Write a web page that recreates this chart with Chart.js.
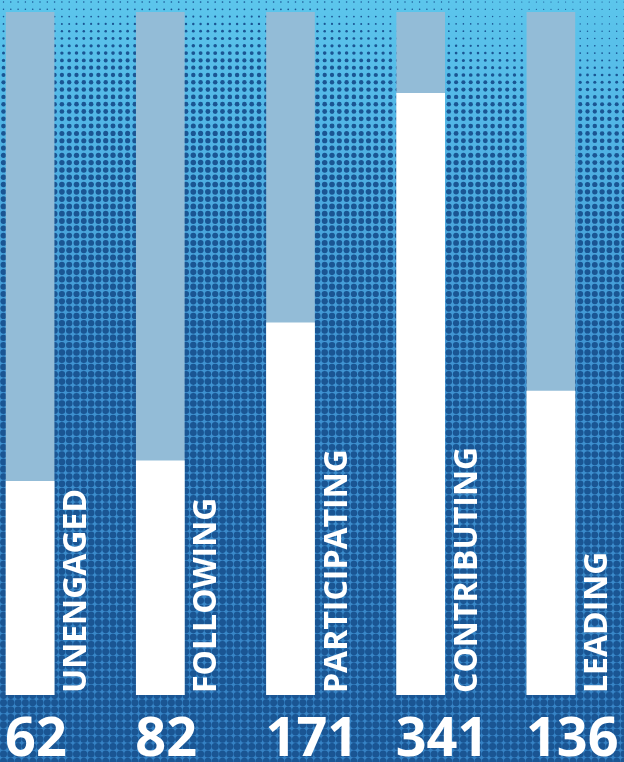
<!DOCTYPE html>
<html>
<head>
<meta charset="utf-8">
<script src="https://cdn.jsdelivr.net/npm/chart.js@4/dist/chart.umd.min.js"></script>
<style>
  html, body { margin: 0; padding: 0; overflow: hidden; background: #1d5d99; }
  #wrap { position: absolute; left: -35px; top: 0; width: 700px; height: 762px; }
</style>
</head>
<body>
<div id="wrap"><canvas id="chartEngage" width="700" height="762"></canvas></div>
<script>
// level names, people counts, and how full each bar is (percent of the track)
const categories = ["UNENGAGED", "FOLLOWING", "PARTICIPATING", "CONTRIBUTING", "LEADING"];
const counts = [62, 82, 171, 341, 136];
const fillLevels = [31.3, 34.3, 54.5, 88.1, 44.5];
const trackLevels = [100, 100, 100, 100, 100];

(function () {
  function lerp(stops, y) {
    for (let i = 1; i < stops.length; i++) {
      if (y <= stops[i][0]) {
        const a = stops[i - 1], b = stops[i];
        const t = (y - a[0]) / (b[0] - a[0]);
        return a.slice(1).map((v, k) => v + (b[k + 1] - v) * t);
      }
    }
    return stops[stops.length - 1].slice(1);
  }

  // halftone background
  const backdrop = {
    id: "backdrop",
    beforeDraw(chart) {
      const ctx = chart.ctx;
      const w = chart.width, h = chart.height;
      const base = [[0, 92, 198, 236], [120, 82, 182, 230], [350, 64, 148, 210], [762, 54, 130, 196]];
      const g = ctx.createLinearGradient(0, 0, 0, h);
      base.forEach(s => g.addColorStop(s[0] / h, "rgb(" + s[1] + "," + s[2] + "," + s[3] + ")"));
      ctx.save();
      ctx.fillStyle = g;
      ctx.fillRect(0, 0, w, h);
      const radius = [[0, 0.6, 0], [40, 0.9, 0], [90, 2.1, 0], [200, 2.8, 0], [400, 3.3, 0], [762, 3.5, 0]];
      ctx.fillStyle = "#1a5593";
      const step = 7.3;
      for (let y = 2; y < h; y += step) {
        for (let x = 2; x < w; x += step) {
          const wave = 30 * Math.sin((x + 35) / 180);
          const r = lerp(radius, Math.max(0, y + wave))[0];
          ctx.beginPath();
          ctx.arc(x, y, r, 0, Math.PI * 2);
          ctx.fill();
        }
      }
      ctx.restore();
    }
  };

  // vertical names beside bars and big counts under them
  const labelsPlugin = {
    id: "labelsPlugin",
    afterDatasetsDraw(chart) {
      const ctx = chart.ctx;
      const meta = chart.getDatasetMeta(0);
      const bottom = chart.scales.y.getPixelForValue(0);
      ctx.save();
      ctx.fillStyle = "#ffffff";
      meta.data.forEach((bar, i) => {
        const half = bar.width / 2;
        ctx.save();
        ctx.font = "bold 32px 'Open Sans'";
        ctx.textAlign = "left";
        ctx.textBaseline = "alphabetic";
        ctx.translate(bar.x + half + 32, bottom - 2);
        ctx.rotate(-Math.PI / 2);
        ctx.fillText(categories[i], 0, 0);
        ctx.restore();

        ctx.font = "bold 54px 'Open Sans'";
        ctx.textAlign = "left";
        ctx.textBaseline = "alphabetic";
        ctx.fillText(String(counts[i]), bar.x - half - 1, 756);
      });
      ctx.restore();
    }
  };

  const el = document.getElementById("chartEngage");
  new Chart(el.getContext("2d"), {
    type: "bar",
    data: {
      labels: categories,
      datasets: [
        { label: "Level", data: fillLevels, backgroundColor: "#ffffff", barThickness: 48, grouped: false },
        { label: "Track", data: trackLevels, backgroundColor: "#93bcd7", barThickness: 48, grouped: false }
      ]
    },
    options: {
      responsive: false,
      animation: false,
      devicePixelRatio: 1,
      layout: { padding: { left: 0, right: 49, top: 12, bottom: 67 } },
      plugins: { legend: { display: false }, tooltip: { enabled: false } },
      scales: {
        x: { display: false, offset: true },
        y: { display: false, min: 0, max: 100 }
      }
    },
    plugins: [backdrop, labelsPlugin]
  });
})();
</script>
</body>
</html>
